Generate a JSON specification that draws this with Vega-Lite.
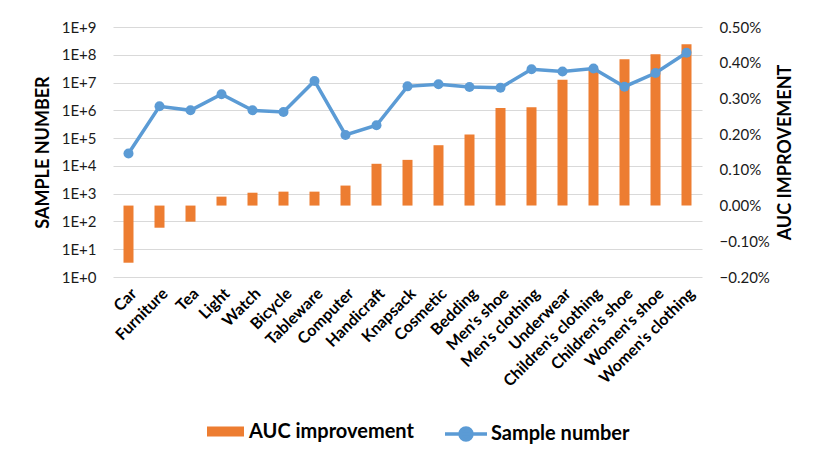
{
  "$schema": "https://vega.github.io/schema/vega-lite/v6.json",
  "width": 589,
  "height": 250,
  "autosize": {"type": "none"},
  "padding": {"left": 113, "top": 27, "right": 127, "bottom": 190},
  "background": "white",
  "config": {
    "font": "Lato",
    "view": {"stroke": null},
    "axis": {
      "labelFont": "Lato",
      "titleFont": "Lato",
      "labelColor": "#1a1a1a",
      "titleColor": "#000000",
      "gridColor": "#d9d9d9",
      "gridWidth": 1,
      "domain": false,
      "ticks": false
    },
    "legend": {"labelFont": "Lato", "labelColor": "#000000", "labelFontSize": 20, "labelFontWeight": "bold", "labelLimit": 300, "padding": 0}
  },
  "data": {
    "values": [
      {"category": "Car", "auc": -0.0016, "samples": 28000},
      {"category": "Furniture", "auc": -0.00062, "samples": 1400000},
      {"category": "Tea", "auc": -0.00045, "samples": 1000000},
      {"category": "Light", "auc": 0.00025, "samples": 3800000},
      {"category": "Watch", "auc": 0.00036, "samples": 1000000},
      {"category": "Bicycle", "auc": 0.00039, "samples": 870000},
      {"category": "Tableware", "auc": 0.00039, "samples": 11400000},
      {"category": "Computer", "auc": 0.00056, "samples": 130000},
      {"category": "Handicraft", "auc": 0.00117, "samples": 290000},
      {"category": "Knapsack", "auc": 0.00128, "samples": 7300000},
      {"category": "Cosmetic", "auc": 0.00169, "samples": 8700000},
      {"category": "Bedding", "auc": 0.00199, "samples": 6900000},
      {"category": "Men's shoe", "auc": 0.00273, "samples": 6500000},
      {"category": "Men's clothing", "auc": 0.00275, "samples": 30000000},
      {"category": "Underwear", "auc": 0.00352, "samples": 25000000},
      {"category": "Children's clothing", "auc": 0.00383, "samples": 32000000},
      {"category": "Children's shoe", "auc": 0.0041, "samples": 7100000},
      {"category": "Women's shoe", "auc": 0.00424, "samples": 22000000},
      {"category": "Women's clothing", "auc": 0.00452, "samples": 118000000}
    ]
  },
  "encoding": {
    "x": {
      "field": "category",
      "type": "nominal",
      "sort": null,
      "scale": {"paddingInner": 0, "paddingOuter": 0},
      "axis": {
        "title": null,
        "labelAngle": -45,
        "labelFontSize": 16,
        "labelFontWeight": "bold",
        "labelColor": "#000000",
        "labelPadding": 8
      }
    }
  },
  "layer": [
    {
      "mark": {"type": "bar", "width": 10},
      "encoding": {
        "y": {
          "field": "auc",
          "type": "quantitative",
          "scale": {"domain": [-0.002, 0.005], "nice": false},
          "axis": {
            "orient": "right",
            "title": "AUC IMPROVEMENT",
            "titleAngle": -90,
            "titleFontSize": 18,
            "titleFontWeight": "bold",
            "titlePadding": 25,
            "labelFontSize": 15,
            "labelPadding": 17,
            "format": ".2%",
            "grid": false,
            "values": [-0.002, -0.001, 0, 0.001, 0.002, 0.003, 0.004, 0.005]
          }
        },
        "fill": {
          "datum": "AUC improvement",
          "scale": {"range": ["#ED7D31"]},
          "legend": {
            "orient": "none",
            "title": null,
            "legendX": 94,
            "legendY": 386,
            "symbolType": "M-1,-0.27H1V0.27H-1Z",
            "symbolSize": 1369,
            "symbolStrokeWidth": 0,
            "labelOffset": 5
          }
        }
      }
    },
    {
      "encoding": {
        "y": {
          "field": "samples",
          "type": "quantitative",
          "scale": {"type": "log", "domain": [1, 1000000000], "nice": false},
          "axis": {
            "orient": "left",
            "title": "SAMPLE NUMBER",
            "titleFontSize": 18,
            "titleFontWeight": "bold",
            "titlePadding": 9,
            "labelFontSize": 15,
            "labelPadding": 17,
            "grid": true,
            "values": [1, 10, 100, 1000, 10000, 100000, 1000000, 10000000, 100000000, 1000000000],
            "labelExpr": "'1E+' + round(log(datum.value) / LN10)"
          }
        }
      },
      "layer": [
        {
          "mark": {"type": "line", "strokeWidth": 3.5},
          "encoding": {
            "stroke": {
              "datum": "Sample number",
              "scale": {"range": ["#5B9BD5"]},
              "legend": {
                "orient": "none",
                "title": null,
                "legendX": 330,
                "legendY": 384,
                "symbolType": "M-1,0H1M-0.286,0A0.286,0.286,0,1,1,0.286,0A0.286,0.286,0,1,1,-0.286,0Z",
                "symbolSize": 1764,
                "symbolStrokeWidth": 3.5,
                "labelOffset": 2,
                "encode": {"symbols": {"update": {"fill": {"value": "#5B9BD5"}}}}
              }
            }
          }
        },
        {
          "mark": {"type": "point", "filled": true, "size": 100, "color": "#5B9BD5", "opacity": 1}
        }
      ]
    }
  ],
  "resolve": {"scale": {"y": "independent"}}
}
